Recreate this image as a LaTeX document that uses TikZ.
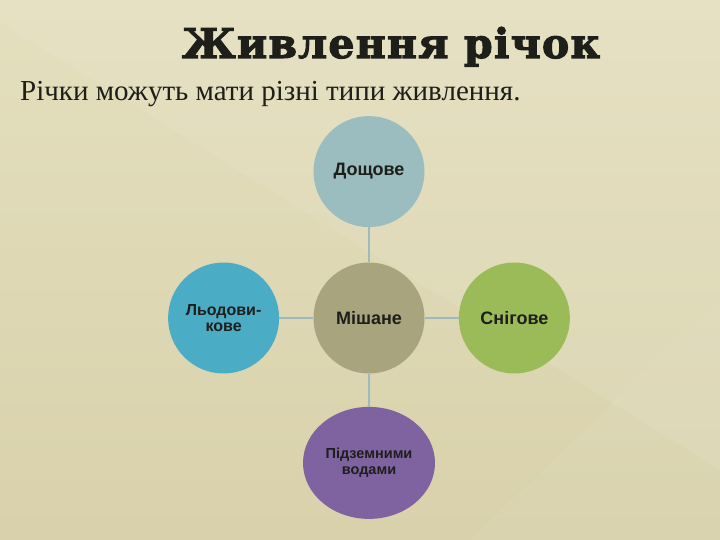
\documentclass[tikz,border=0pt]{standalone}
\usepackage{fontspec}
\setmainfont{Liberation Serif}
\newfontfamily\titlefont[BoldFeatures={FakeBold=2.5},LetterSpace=3]{DejaVu Serif}
\newfontfamily\labelfont{Liberation Sans}
\usepackage{tikz}
\usetikzlibrary{positioning,shapes.geometric}
\definecolor{bgtop}{HTML}{E4DFBE}
\definecolor{bgbot}{HTML}{D8D1AB}
\definecolor{rain}{HTML}{9BBDBF}
\definecolor{mixed}{HTML}{A8A47D}
\definecolor{glacier}{HTML}{4BACC6}
\definecolor{snow}{HTML}{9BBB59}
\definecolor{ground}{HTML}{7F63A1}
\definecolor{link}{HTML}{9DBABD}
\definecolor{ink}{HTML}{1E1E1A}
\tikzset{
  source/.style={shape=circle,minimum size=111pt,inner sep=0pt,align=center,
    text=ink,font=\labelfont\bfseries\fontsize{18}{17}\selectfont},
  link/.style={draw=link,line width=1.6pt}
}

\begin{document}
\begin{tikzpicture}[x=1pt,y=-1pt,node distance=35pt and 34pt]
      % background
      \fill[top color=bgtop,bottom color=bgbot] (0,0) rectangle (720,540);
      \fill[white,opacity=0.08] (0,0) -- (0,22) -- (720,470) -- (720,0) -- cycle;
      \fill[white,opacity=0.05] (470,540) -- (720,300) -- (720,540) -- cycle;
      \useasboundingbox (0,0) rectangle (720,540);
      \node[anchor=base,inner sep=0pt,text=ink,font=\titlefont\bfseries\fontsize{41}{44}\selectfont] (title) at (391,58) {Живлення річок};
      \node[anchor=base west,inner sep=0pt,text=ink,font=\fontsize{29}{32}\selectfont] (intro) at (20,101) {Річки можуть мати різні типи живлення.};
      \node[source,fill=mixed] (mix) at (369,318) {Мішане};
      \node[source,fill=rain,above=of mix] (rainy) {Дощове};
      \node[source,fill=glacier,left=of mix,font=\labelfont\bfseries\fontsize{16}{16}\selectfont] (ice) {Льодови-\\кове};
      \node[source,fill=snow,right=of mix] (snowy) {Снігове};
      \node[source,shape=ellipse,minimum width=132pt,minimum height=112pt,fill=ground,below=33pt of mix,
        font=\labelfont\bfseries\fontsize{14.5}{16}\selectfont] (under) {Підземними\\водами};
      \draw[link] (rainy) -- (mix);
      \draw[link] (ice) -- (mix);
      \draw[link] (mix) -- (snowy);
      \draw[link] (mix) -- (under);
    \end{tikzpicture}
\end{document}
